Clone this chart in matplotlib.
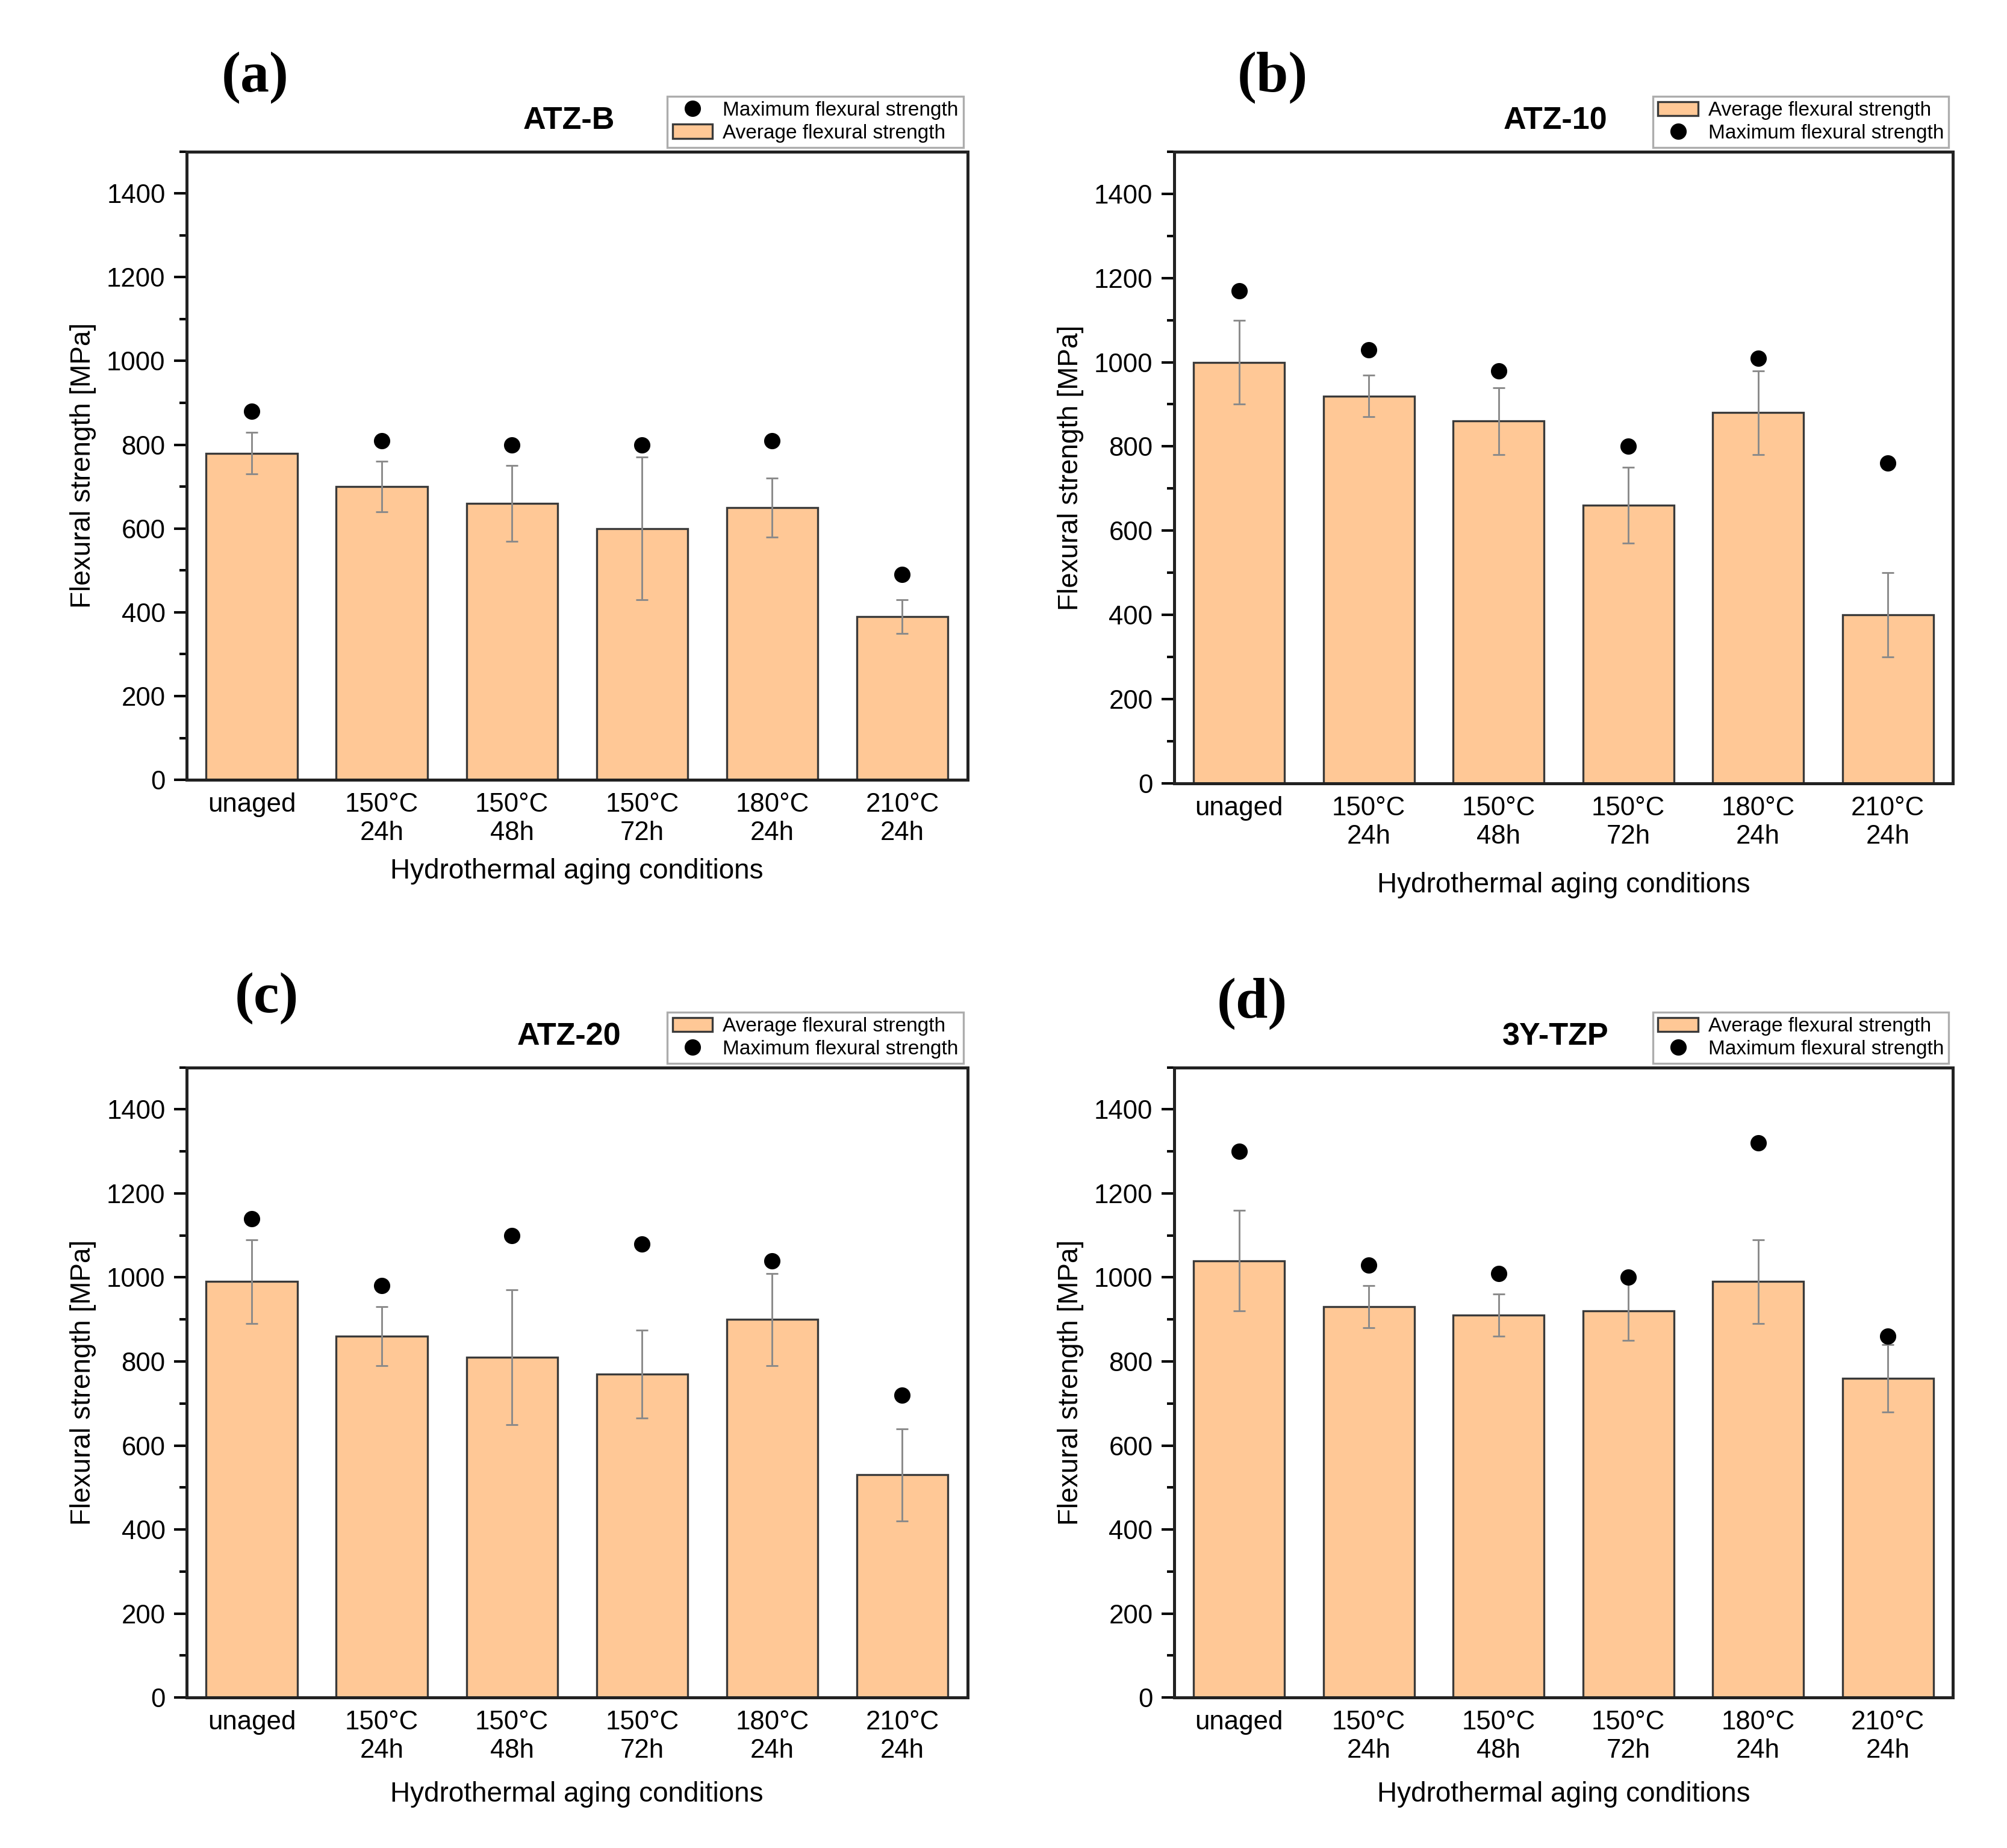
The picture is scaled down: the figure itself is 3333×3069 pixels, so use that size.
import numpy as np
import matplotlib
matplotlib.use("Agg")
import matplotlib.pyplot as plt
from matplotlib.ticker import MultipleLocator

plt.rcParams["font.family"] = ["Liberation Sans", "DejaVu Sans"]

# ---------------- Data ----------------
conditions = ["unaged", "150°C\n24h", "150°C\n48h", "150°C\n72h", "180°C\n24h", "210°C\n24h"]

atzb_avg = [780, 700, 660, 600, 650, 390]
atzb_err = [50, 60, 90, 170, 70, 40]
atzb_max = [880, 810, 800, 800, 810, 490]

atz10_avg = [1000, 920, 860, 660, 880, 400]
atz10_err = [100, 50, 80, 90, 100, 100]
atz10_max = [1170, 1030, 980, 800, 1010, 760]

atz20_avg = [990, 860, 810, 770, 900, 530]
atz20_err = [100, 70, 160, 105, 110, 110]
atz20_max = [1140, 980, 1100, 1080, 1040, 720]

tzp_avg = [1040, 930, 910, 920, 990, 760]
tzp_err = [120, 50, 50, 70, 100, 80]
tzp_max = [1300, 1030, 1010, 1000, 1320, 860]

panels = [
    ("(a)", "ATZ-B", atzb_avg, atzb_err, atzb_max, True),
    ("(b)", "ATZ-10", atz10_avg, atz10_err, atz10_max, False),
    ("(c)", "ATZ-20", atz20_avg, atz20_err, atz20_max, False),
    ("(d)", "3Y-TZP", tzp_avg, tzp_err, tzp_max, False),
]

# ---------------- Layout ----------------
rects = [
    [0.093, 0.578, 0.389, 0.340],
    [0.585, 0.576, 0.388, 0.342],
    [0.093, 0.0814, 0.389, 0.341],
    [0.585, 0.0814, 0.388, 0.341],
]
label_pos = [(0.127, 0.958), (0.634, 0.958), (0.133, 0.460), (0.624, 0.457)]
xlabel_pad = [5, 9, 7, 7]

bar_color = "#FFC896"

fig = plt.figure(figsize=(11.11, 10.23), dpi=300)

for i, (tag, name, avg, err, mx, max_first) in enumerate(panels):
    ax = fig.add_axes(rects[i])
    x = np.arange(len(conditions))
    bars = ax.bar(x, avg, width=0.7, color=bar_color, edgecolor="#3a3a3a",
                  linewidth=0.8, label="Average flexural strength", zorder=2)
    ax.errorbar(x, avg, yerr=err, fmt="none", ecolor="#8a8a8a",
                elinewidth=0.7, capsize=2.5, capthick=0.7, zorder=3)
    dots, = ax.plot(x, mx, "o", color="black", markersize=5.5,
                    linestyle="none", label="Maximum flexural strength", zorder=4)

    ax.set_xlim(-0.5, 5.5)
    ax.set_ylim(0, 1500)
    ax.yaxis.set_major_locator(MultipleLocator(200))
    ax.yaxis.set_minor_locator(MultipleLocator(100))
    ax.set_yticks(np.arange(0, 1401, 200))
    ax.set_xticks(x)
    ax.set_xticklabels(conditions, fontsize=10.5)
    ax.tick_params(axis="x", length=0, pad=5)
    ax.tick_params(axis="y", which="major", length=5, width=1, labelsize=10.5,
                   direction="out")
    ax.tick_params(axis="y", which="minor", length=3, width=1, direction="out")
    for s in ax.spines.values():
        s.set_linewidth(1.2)
        s.set_color("#222222")

    ax.set_ylabel("Flexural strength [MPa]", fontsize=11)
    ax.set_xlabel("Hydrothermal aging conditions", fontsize=11, labelpad=xlabel_pad[i])
    ax.set_title(name, fontsize=12.5, fontweight="bold", pad=9, x=0.49)

    handles = [dots, bars] if max_first else [bars, dots]
    leg = ax.legend(handles=handles, loc="lower right", bbox_to_anchor=(1.0, 1.0),
                    fontsize=8, frameon=True, fancybox=False, edgecolor="#999999",
                    borderaxespad=0.2, borderpad=0.25, handlelength=2.0,
                    handletextpad=0.5, labelspacing=0.2)
    leg.get_frame().set_linewidth(0.8)

    fig.text(label_pos[i][0], label_pos[i][1], tag, fontsize=23, fontweight="bold",
             family=["Liberation Serif", "DejaVu Serif"], ha="center", va="center")

fig.savefig("out.png", dpi=300)
